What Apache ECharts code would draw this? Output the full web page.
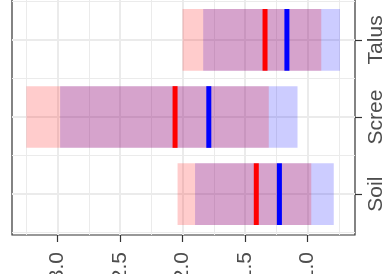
<!DOCTYPE html>
<html><head><meta charset="utf-8">
<script src="https://cdn.jsdelivr.net/npm/echarts@6/dist/echarts.min.js"></script>
<style>html,body{margin:0;padding:0;background:#fff}#c{width:386px;height:274px}</style>
</head><body><div id="c"></div>
<script>
const categories = ['Soil', 'Scree', 'Talus'];
const redLow   = [0.97, 1.31, 0.89];
const redHigh  = [2.04, 3.25, 2.00];
const blueLow  = [0.79, 1.08, 0.74];
const blueHigh = [1.90, 2.98, 1.835];
const redMid   = [1.41, 2.06, 1.34];
const blueMid  = [1.225, 1.79, 1.165];
const xTickValues = [1.0, 1.5, 2.0, 2.5, 3.0];
const yTickValues = [1, 2, 3];

const FONT = 'Liberation Sans';
const TXT = '#4D4D4D';

function rangeSeries(name, lows, highs, color, z) {
  return {
    type: 'custom', name, z,
    data: categories.map((c, i) => [lows[i], highs[i], i + 1]),
    encode: { x: [0, 1], y: 2 },
    renderItem(params, api) {
      const y = api.value(2);
      const p1 = api.coord([api.value(0), y]);
      const p2 = api.coord([api.value(1), y]);
      const h = api.size([0, 1])[1] * 0.8;
      return {
        type: 'rect',
        shape: { x: Math.min(p1[0], p2[0]), y: p1[1] - h / 2, width: Math.abs(p2[0] - p1[0]), height: h },
        style: { fill: color }
      };
    }
  };
}
function midSeries(name, mids, color, z) {
  return {
    type: 'custom', name, z,
    data: categories.map((c, i) => [mids[i], i + 1]),
    encode: { x: 0, y: 1 },
    renderItem(params, api) {
      const p = api.coord([api.value(0), api.value(1)]);
      const h = api.size([0, 1])[1] * 0.8;
      return {
        type: 'rect',
        shape: { x: p[0] - 2.5, y: p[1] - h / 2, width: 5, height: h },
        style: { fill: color }
      };
    }
  };
}

const chart = echarts.init(document.getElementById('c'), null, { renderer: 'canvas' });
chart.setOption({
  animation: false,
  backgroundColor: '#fff',
  grid: { left: 12, right: 31, top: -1, bottom: 39, show: true, containLabel: false, outerBoundsMode: 'none',
    borderColor: '#333', borderWidth: 1.2, backgroundColor: 'transparent' },
  xAxis: {
    type: 'value', inverse: true, min: 0.62, max: 3.365, position: 'bottom',
    axisLine: { show: false },
    axisTick: { show: true, length: 7, customValues: xTickValues, lineStyle: { color: '#333', width: 1.2 } },
    axisLabel: { customValues: xTickValues, rotate: 90, margin: 17, fontSize: 21, fontFamily: FONT, color: TXT,
      formatter: v => Number(v).toFixed(1) },
    splitLine: { show: true, lineStyle: { color: '#EBEBEB', width: 2 } },
    minorTick: { show: false, splitNumber: 2 },
    minorSplitLine: { show: true, lineStyle: { color: '#EBEBEB', width: 1 } }
  },
  yAxis: {
    type: 'value', position: 'right', min: 0.47, max: 3.53, splitNumber: 3,
    axisLine: { show: false },
    axisTick: { show: true, length: 7, customValues: yTickValues, lineStyle: { color: '#333', width: 1.2 } },
    axisLabel: { customValues: yTickValues, rotate: 90, margin: 11, fontSize: 21, fontFamily: FONT, color: TXT,
      formatter: v => categories[Math.round(v) - 1] },
    splitLine: { show: true, lineStyle: { color: '#EBEBEB', width: 2 } },
    minorTick: { show: false, splitNumber: 2 },
    minorSplitLine: { show: true, lineStyle: { color: '#EBEBEB', width: 1 } }
  },
  series: [
    rangeSeries('blueRange', blueLow, blueHigh, 'rgba(0,0,255,0.2)', 1),
    rangeSeries('redRange', redLow, redHigh, 'rgba(255,0,0,0.2)', 2),
    midSeries('redMid', redMid, '#FF0000', 3),
    midSeries('blueMid', blueMid, '#0000FF', 4)
  ]
});
</script></body></html>
